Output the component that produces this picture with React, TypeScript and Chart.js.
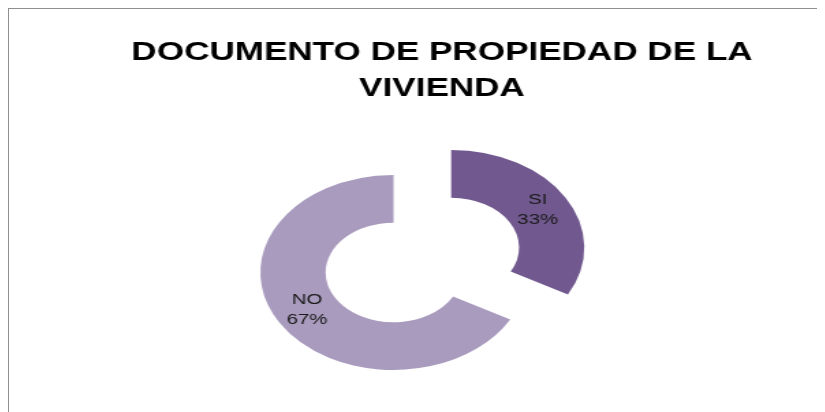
import React, { useEffect, useRef } from "react";
import { Chart, registerables } from "chart.js";

Chart.register(...registerables);

// ---- data ----
const titleLines = ["DOCUMENTO DE PROPIEDAD DE LA", "VIVIENDA"];
const categories = ["SI", "NO"];
const values = [33, 67];
const sliceColors = ["#71598F", "#A99BBE"];

// ---- geometry / style ----
const CANVAS_W = 634; // internal drawing width
const CANVAS_H = 400;
const CSS_W = 866; // stretched horizontally like the reference
const EXPLODE = 24.5;
const PLOT_SHIFT_X = -14.4; // plot area sits slightly left of the title centre
const FONT = "'Liberation Sans', Arial, sans-serif";

const explodePlugin = {
  id: "explodeSlices",
  afterDatasetUpdate(chart: any, args: any) {
    const meta = chart.getDatasetMeta(args.index);
    meta.data.forEach((arc: any) => {
      const mid = (arc.startAngle + arc.endAngle) / 2;
      arc.x += Math.cos(mid) * EXPLODE + PLOT_SHIFT_X;
      arc.y += Math.sin(mid) * EXPLODE;
    });
  },
};

const labelPlugin = {
  id: "sliceLabels",
  afterDatasetsDraw(chart: any) {
    const ctx = chart.ctx;
    const meta = chart.getDatasetMeta(0);
    const data = chart.data.datasets[0].data as number[];
    const total = data.reduce((a, b) => a + b, 0);
    ctx.save();
    ctx.font = `15px ${FONT}`;
    ctx.fillStyle = "#1a1a1a";
    ctx.textAlign = "center";
    ctx.textBaseline = "middle";
    meta.data.forEach((arc: any, i: number) => {
      const { x, y } = arc.getCenterPoint();
      const pct = Math.round((data[i] / total) * 100) + "%";
      ctx.fillText(String(chart.data.labels[i]), x, y - 10);
      ctx.fillText(pct, x, y + 10);
    });
    ctx.restore();
  },
};

export default function App() {
  const ref = useRef<HTMLCanvasElement | null>(null);

  useEffect(() => {
    if (!ref.current) return;
    const chart = new Chart(ref.current, {
      type: "doughnut",
      data: {
        labels: categories,
        datasets: [
          {
            data: values,
            backgroundColor: sliceColors,
            borderWidth: 0,
          },
        ],
      },
      options: {
        responsive: false,
        maintainAspectRatio: false,
        devicePixelRatio: 1,
        animation: false,
        cutout: "51%",
        radius: 97.5,
        layout: { padding: { left: 0, right: 0, top: 0, bottom: 6 } },
        plugins: {
          legend: { display: false },
          tooltip: { enabled: false },
          title: {
            display: true,
            text: titleLines,
            color: "#000000",
            font: { family: FONT, size: 25.7, weight: "bold", lineHeight: 36 / 25.7 },
            padding: { top: 26, bottom: 10 },
          },
        },
      } as any,
      plugins: [explodePlugin, labelPlugin],
    });
    return () => chart.destroy();
  }, []);

  return (
    <div
      style={{
        marginLeft: -1,
        marginTop: -1,
        width: 816,
        height: 403,
        overflow: "hidden",
        borderLeft: "2px solid #8f8f8f",
        borderTop: "2px solid #8f8f8f",
        background: "#ffffff",
      }}
    >
      <canvas
        ref={ref}
        width={CANVAS_W}
        height={CANVAS_H}
        style={{ display: "block", width: CSS_W + "px", height: CANVAS_H + "px" }}
      />
    </div>
  );
}
